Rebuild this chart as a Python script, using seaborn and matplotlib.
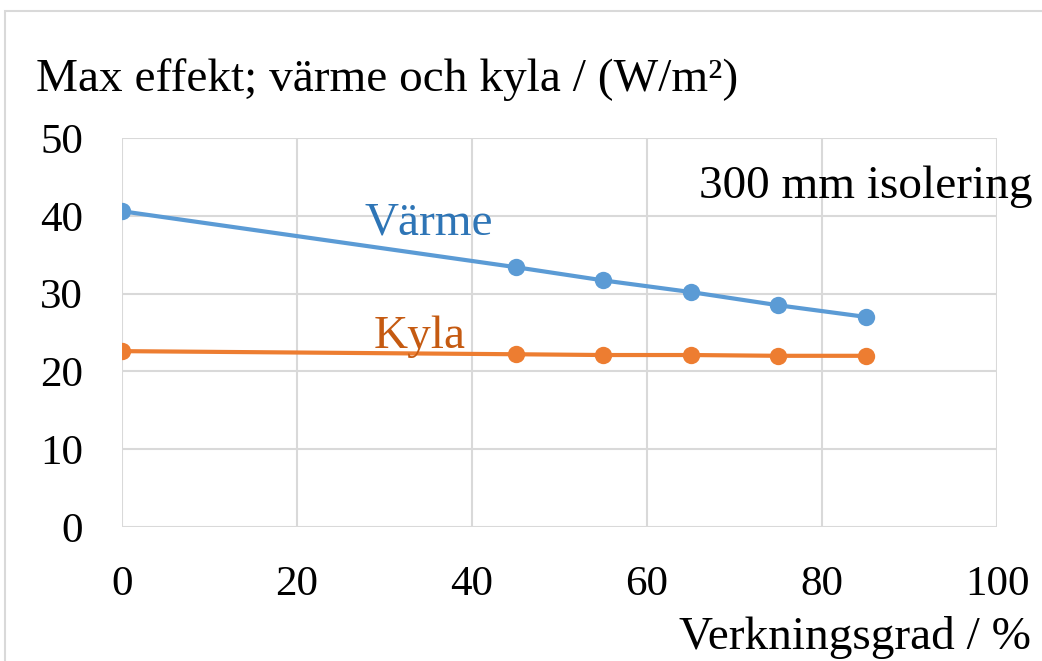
import pandas as pd
import matplotlib.pyplot as plt
import seaborn as sns
from matplotlib.patches import Rectangle

# Data
verkningsgrad = [0, 45, 55, 65, 75, 85]
varme = [40.6, 33.4, 31.7, 30.2, 28.5, 27.0]
kyla = [22.6, 22.2, 22.1, 22.1, 22.0, 22.0]
x_ticks = [0, 20, 40, 60, 80, 100]
y_ticks = [0, 10, 20, 30, 40, 50]

df = pd.DataFrame({
    'Verkningsgrad': verkningsgrad * 2,
    'Effekt': varme + kyla,
    'Serie': ['Värme'] * len(varme) + ['Kyla'] * len(kyla),
})

sns.set_theme(style='white')
plt.rcParams['font.family'] = ['Liberation Serif', 'DejaVu Serif']
plt.rcParams['text.color'] = 'black'

fig = plt.figure(figsize=(10.42, 6.61), dpi=100)
ax = fig.add_axes([0.117, 0.203, 0.840, 0.588])

# figure frame
fig.patches.append(Rectangle((0.005, -0.1), 1.2, 1.083, transform=fig.transFigure,
                             fill=False, edgecolor='#d9d9d9', linewidth=1.5))

palette = {'Värme': '#5b9bd5', 'Kyla': '#ed7d31'}
sns.lineplot(data=df, x='Verkningsgrad', y='Effekt', hue='Serie', palette=palette,
             marker='o', markersize=12.5, markeredgewidth=0, linewidth=3,
             legend=False, ax=ax)

ax.set_xlim(0, 100)
ax.set_ylim(0, 50)
ax.set_xticks(x_ticks)
ax.set_yticks(y_ticks)
ax.grid(True, color='#d9d9d9', linewidth=1.5)
ax.set_axisbelow(True)
for s in ax.spines.values():
    s.set_visible(False)
ax.tick_params(axis='both', length=0, labelsize=31, colors='black')
ax.tick_params(axis='y', pad=28)
ax.tick_params(axis='x', pad=28)
ax.set_xlabel('')
ax.set_ylabel('')

fig.text(0.035, 0.880, 'Max effekt; värme och kyla / (W/m²)', fontsize=34, va='center')
fig.text(0.989, 0.036, 'Verkningsgrad / %', fontsize=34, ha='right', va='center')
ax.text(104, 43.8, '300 mm isolering', fontsize=34, ha='right', va='center')
ax.text(35, 39.0, 'Värme', fontsize=34, color='#2e75b6', ha='center', va='center')
ax.text(34, 24.5, 'Kyla', fontsize=34, color='#c55a11', ha='center', va='center')

fig.savefig('out.png', dpi=100)
